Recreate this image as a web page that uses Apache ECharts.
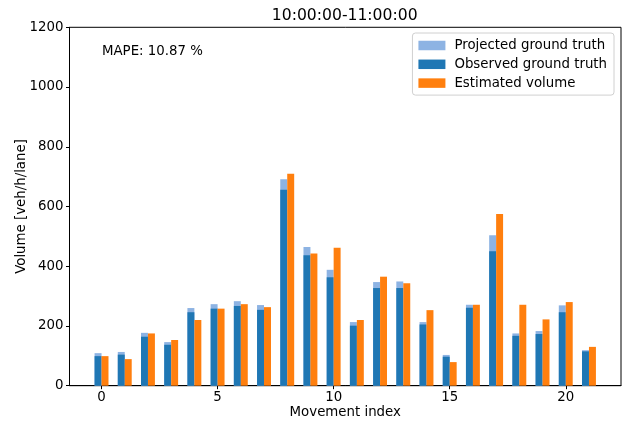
<!DOCTYPE html>
<html>
<head>
<meta charset="utf-8">
<script src="https://cdn.jsdelivr.net/npm/echarts@6/dist/echarts.min.js"></script>
<style>html,body{margin:0;padding:0;background:#fff}#c{width:624px;height:423px}</style>
</head>
<body>
<div id="c"></div>
<script>
const movementIndex = [0,1,2,3,4,5,6,7,8,9,10,11,12,13,14,15,16,17,18,19,20,21];
const projectedGroundTruth = [109,113,177,146,260,273,283,270,691,464,388,213,347,349,213,103,271,504,175,183,269,119];
const observedGroundTruth  = [99,104,164,137,246,258,267,254,656,437,363,201,327,327,205,97,261,450,167,173,246,115];
const estimatedVolume      = [99,89,175,153,220,258,273,263,710,443,462,220,365,343,253,79,271,575,271,222,280,130];
const xTicks = [0,5,10,15,20];
const yTicks = [0,200,400,600,800,1000,1200];

const FONT = 'DejaVu Sans';
const FS = 13.33;
const BAR_W = 0.3;

function barRenderer(offset) {
  return function (params, api) {
    const x = api.value(0), v = api.value(1);
    const p0 = api.coord([x + offset - BAR_W / 2, v]);
    const p1 = api.coord([x + offset + BAR_W / 2, 0]);
    return {
      type: 'rect',
      shape: { x: p0[0], y: p0[1], width: p1[0] - p0[0], height: p1[1] - p0[1] },
      style: { fill: api.visual('color') }
    };
  };
}
function pairs(arr) { return movementIndex.map((m, i) => [m, arr[i]]); }

const chart = echarts.init(document.getElementById('c'), null, { renderer: 'canvas' });
chart.setOption({
  animation: false,
  backgroundColor: '#fff',
  grid: { left: 69.5, right: 3, top: 27.3, bottom: 37.3, show: true, borderColor: '#000', borderWidth: 1,
          backgroundColor: 'transparent', containLabel: false, outerBoundsMode: 'none' },
  xAxis: {
    type: 'value', min: -1.38, max: 22.38,
    name: 'Movement index', nameLocation: 'middle', nameGap: 20.5, nameMoveOverlap: false,
    nameTextStyle: { fontFamily: FONT, fontSize: FS, color: '#000', verticalAlign: 'top' },
    axisLine: { show: true, onZero: false, lineStyle: { color: '#000', width: 1 } },
    axisTick: { show: true, inside: false, customValues: xTicks, length: 3.5, lineStyle: { color: '#000' } },
    axisLabel: { customValues: xTicks, fontFamily: FONT, fontSize: FS, color: '#000', margin: 5 },
    splitLine: { show: false }
  },
  yAxis: {
    type: 'value', min: 0, max: 1200,
    name: 'Volume [veh/h/lane]', nameLocation: 'middle', nameGap: 41.5, nameMoveOverlap: false,
    nameTextStyle: { fontFamily: FONT, fontSize: FS, color: '#000' },
    axisLine: { show: true, onZero: false, lineStyle: { color: '#000', width: 1 } },
    axisTick: { show: true, inside: false, customValues: yTicks, length: 3.5, lineStyle: { color: '#000' } },
    axisLabel: { customValues: yTicks, fontFamily: FONT, fontSize: FS, color: '#000', margin: 6,
                 formatter: v => String(v) },
    splitLine: { show: false }
  },
  legend: {
    orient: 'vertical', right: 10, top: 33,
    backgroundColor: '#fff', borderColor: '#d0d0d0', borderWidth: 1, borderRadius: 3,
    padding: [5.5, 7, 5, 6], itemGap: 4.8, itemWidth: 27, itemHeight: 9.5,
    icon: 'rect',
    formatter: n => '{g|}' + n,
    textStyle: { fontFamily: FONT, fontSize: FS, color: '#000', lineHeight: 14,
                 rich: { g: { width: 4 } } },
    data: ['Projected ground truth', 'Observed ground truth', 'Estimated volume']
  },
  graphic: [{
    type: 'text', x: 344.7, y: 16,
    style: { text: '10:00:00-11:00:00', font: '15.6px "DejaVu Sans"', fill: '#000',
             textAlign: 'center', textVerticalAlign: 'middle' }
  }, {
    type: 'text', left: 102, top: 45.5,
    style: { text: 'MAPE: 10.87 %', font: FS + 'px "DejaVu Sans"', fill: '#000' }
  }],
  series: [
    { name: 'Projected ground truth', type: 'custom', color: '#8db3e3', renderItem: barRenderer(-0.15), encode: { x: 0, y: 1 }, data: pairs(projectedGroundTruth), z: 1 },
    { name: 'Observed ground truth', type: 'custom', color: '#1f77b4', renderItem: barRenderer(-0.15), encode: { x: 0, y: 1 }, data: pairs(observedGroundTruth), z: 2 },
    { name: 'Estimated volume', type: 'custom', color: '#ff7f0e', renderItem: barRenderer(0.15), encode: { x: 0, y: 1 }, data: pairs(estimatedVolume), z: 2 }
  ]
});
</script>
</body>
</html>
